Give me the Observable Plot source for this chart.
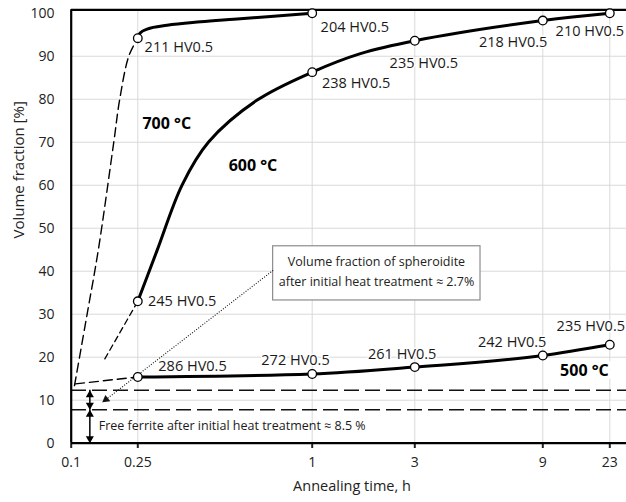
<!DOCTYPE html>
<html><head><meta charset="utf-8">
<script src="https://cdn.jsdelivr.net/npm/d3@7"></script>
<script src="https://cdn.jsdelivr.net/npm/@observablehq/plot@0.6"></script>
<style>
html,body{margin:0;padding:0;background:#fff;}
#chart svg{display:block;font-family:"Open Sans",sans-serif;}
#chart svg g[aria-label="x-axis tick"] path{stroke-width:2px;}
</style></head><body><div id="chart"></div>
<script>
// ---- axes ----
const xTicks = [0.1, 0.25, 1, 3, 9, 23];
const xTickLabels = ["0.1", "0.25", "1", "3", "9", "23"];
const yTicks = [0, 10, 20, 30, 40, 50, 60, 70, 80, 90, 100];
const yGrid = [10, 20, 30, 40, 50, 60, 70, 80, 90];
const yTop = 100.8;

// ---- measured points (annealing time h, volume fraction %, hardness) ----
const t700 = [0.25, 1];
const v700 = [94.2, 100];
const hv700 = ["211 HV0.5", "204 HV0.5"];
const t600 = [0.25, 1, 3, 9, 23];
const v600 = [33.0, 86.3, 93.6, 98.3, 100];
const hv600 = ["245 HV0.5", "238 HV0.5", "235 HV0.5", "218 HV0.5", "210 HV0.5"];
const t500 = [0.25, 1, 3, 9, 23];
const v500 = [15.4, 16.1, 17.7, 20.4, 22.9];
const hv500 = ["286 HV0.5", "272 HV0.5", "261 HV0.5", "242 HV0.5", "235 HV0.5"];

// ---- traced curves ----
const curve700T = [0.25, 0.26, 0.29, 0.376, 0.52, 0.663, 0.807, 1];
const curve700V = [94.2, 95.4, 96.3, 97.2, 98.0, 98.6, 99.2, 100];
const dash700T = [0.1074, 0.136, 0.161, 0.196, 0.209, 0.230, 0.25];
const dash700V = [13.4, 30.1, 44.9, 70.1, 79.8, 90.1, 94.2];
const curve600T = [0.25, 0.3334, 0.4409, 0.5553, 0.7635, 1, 1.94, 3, 9, 23];
const curve600V = [33.0, 44.9, 60.1, 70.1, 79.8, 86.3, 90.6, 93.6, 98.3, 100];
const dash600T = [0.1757, 0.25];
const dash600V = [19.6, 33.0];
const dash500T = [0.1097, 0.25];
const dash500V = [13.8, 15.4];

// ---- reference levels ----
const refLevels = [12.3, 7.8];
const arrowT = 0.142;
const arrowSegs = [[12.3, 7.8], [7.8, 0]];
const pointerFrom = [0.832, 40.2];
const pointerTo = [0.170, 9.5];
const boxT = [0.832, 6.08];
const boxV = [33.2, 45.8];
const boxText = "Volume fraction of spheroidite\nafter initial heat treatment ≈ 2.7%";
const boxTextPos = [2.253, 40.4];
const ferriteText = "Free ferrite after initial heat treatment ≈ 8.5 %";
const ferritePos = [0.162, 4.1];
const tempLabels = ["700 °C", "600 °C", "500 °C"];
const tempT = [0.3747, 0.7454, 17.7];
const tempV = [74.2, 64.5, 16.9];

// ---- layout (pixels) ----
const xPix = [70.7, 137.3, 311.7, 414.3, 542.3, 609.3];
const yPix = [442.7, 9.3];
const off700 = [[41, 9], [42.6, 14]];
const off600 = [[44.4, 0], [44, 11], [9, 23], [-29.7, 22], [-20, 18]];
const off500 = [[54.7, -10.7], [-16.7, -14], [-12.6, -12.7], [-30.6, -13.3], [-19, -18.3]];

const pts = (T, V) => T.map((t, i) => ({t, v: V[i]}));
const lab = (T, V, L, O) => T.map((t, i) => ({t, v: V[i], s: L[i], dx: O[i][0], dy: O[i][1]}));
const markers = [...pts(t700, v700), ...pts(t600, v600), ...pts(t500, v500)];
const labels = [...lab(t700, v700, hv700, off700), ...lab(t600, v600, hv600, off600), ...lab(t500, v500, hv500, off500)];

// arrow head directions
const xs = d3.scaleLinear(xTicks, xPix), ys = d3.scaleLinear([0, yTop], yPix);
const pdx = xs(pointerTo[0]) - xs(pointerFrom[0]), pdy = ys(pointerTo[1]) - ys(pointerFrom[1]);
const plen = Math.hypot(pdx, pdy);
const pRot = Math.atan2(pdy, pdx) * 180 / Math.PI + 90;
const tipR = 3;
const tipOff = 2 * Math.sqrt(Math.PI * tipR * tipR / (Math.sqrt(3) * 3));

const heads = [
  {v: arrowSegs[0][0], rot: 0, dy: tipOff},
  {v: arrowSegs[0][1], rot: 180, dy: -tipOff},
  {v: arrowSegs[1][0], rot: 0, dy: tipOff},
  {v: arrowSegs[1][1], rot: 180, dy: -tipOff}
];

const marks = [
  Plot.ruleY(yGrid, {stroke: "#d9d9d9", strokeWidth: 1}),
  Plot.ruleX(xTicks.slice(1), {y1: 0, y2: yTop, stroke: "#d9d9d9", strokeWidth: 1}),
  Plot.ruleY(refLevels, {stroke: "#111", strokeWidth: 1.5, strokeDasharray: "15,6"}),
  Plot.ruleX([xTicks[0]], {y1: 0, y2: yTop, stroke: "#000", strokeWidth: 2.2}),
  Plot.ruleY([0, yTop], {stroke: "#000", strokeWidth: 2.2}),
  // box
  Plot.rect([0], {x1: () => boxT[0], x2: () => boxT[1], y1: () => boxV[0], y2: () => boxV[1], fill: "white", stroke: "#8c8c8c", strokeWidth: 1.2}),
  Plot.text([boxText], {x: () => boxTextPos[0], y: () => boxTextPos[1], text: d => d, fontSize: 12.5, lineHeight: 1.6, fill: "#222"}),
  // dotted pointer
  Plot.link([0], {x1: () => pointerFrom[0], y1: () => pointerFrom[1], x2: () => pointerTo[0], y2: () => pointerTo[1], stroke: "#111", strokeWidth: 1.1, strokeDasharray: "1,1.6"}),
  Plot.dot([0], {x: () => pointerTo[0], y: () => pointerTo[1], symbol: "triangle", r: tipR, fill: "#111", stroke: "none", rotate: pRot,
    dx: -tipOff * pdx / plen, dy: -tipOff * pdy / plen}),
  // double arrows
  Plot.ruleX(arrowSegs, {x: () => arrowT, y1: d => d[0], y2: d => d[1], stroke: "#000", strokeWidth: 1.5}),
  ...heads.map(h => Plot.dot([h], {x: () => arrowT, y: d => d.v, symbol: "triangle", r: tipR, fill: "#000", stroke: "none", rotate: h.rot, dy: h.dy})),
  // dashed extrapolations
  Plot.line(pts(dash700T, dash700V), {x: "t", y: "v", curve: "catmull-rom", stroke: "#000", strokeWidth: 1.4, strokeDasharray: "9,5"}),
  Plot.line(pts(dash600T, dash600V), {x: "t", y: "v", stroke: "#000", strokeWidth: 1.3, strokeDasharray: "6,4"}),
  Plot.line(pts(dash500T, dash500V), {x: "t", y: "v", stroke: "#000", strokeWidth: 1.4, strokeDasharray: "9,5"}),
  // solid curves
  Plot.line(pts(curve700T, curve700V), {x: "t", y: "v", curve: "monotone-x", stroke: "#000", strokeWidth: 3}),
  Plot.line(pts(curve600T, curve600V), {x: "t", y: "v", curve: "catmull-rom", stroke: "#000", strokeWidth: 3}),
  Plot.line(pts(t500, v500), {x: "t", y: "v", curve: "monotone-x", stroke: "#000", strokeWidth: 3}),
  Plot.dot(markers, {x: "t", y: "v", r: 4.3, fill: "white", stroke: "#000", strokeWidth: 1.3}),
  // hardness labels
  ...labels.map(l => Plot.text([l], {x: "t", y: "v", text: "s", dx: l.dx, dy: l.dy, fontSize: 14.5, fill: "#1a1a1a", stroke: "white", strokeWidth: 3})),
  // temperature labels
  Plot.text(tempLabels.map((s, i) => ({s, t: tempT[i], v: tempV[i]})), {x: "t", y: "v", text: "s", fontSize: 16, fontWeight: "bold", fill: "#000", stroke: "white", strokeWidth: 8}),
  Plot.text([ferriteText], {x: () => ferritePos[0], y: () => ferritePos[1], text: d => d, textAnchor: "start", fontSize: 12.5, fill: "#1a1a1a"}),
  // axis titles
  Plot.text(["Volume fraction [%]"], {frameAnchor: "left", text: d => d, rotate: -90, dx: -52, dy: 12, fontSize: 15, fill: "#222"}),
  Plot.text(["Annealing time, h"], {frameAnchor: "bottom", text: d => d, dx: 3, dy: 47, fontSize: 14.5, fill: "#222"})
];

const chart = Plot.plot({
  width: 626,
  height: 502,
  marginLeft: 71,
  marginRight: 0,
  marginTop: 9,
  marginBottom: 59,
  style: {fontFamily: "Open Sans, sans-serif", fontSize: "14px", color: "#222", background: "white"},
  x: {type: "linear", domain: xTicks, range: xPix, ticks: xTicks, tickFormat: (d) => xTickLabels[xTicks.indexOf(d)], tickSize: 5, tickPadding: 9, label: null},
  y: {type: "linear", domain: [0, yTop], range: yPix, ticks: yTicks, tickSize: 0, tickPadding: 17, label: null},
  marks
});
document.getElementById("chart").appendChild(chart);
</script></body></html>
